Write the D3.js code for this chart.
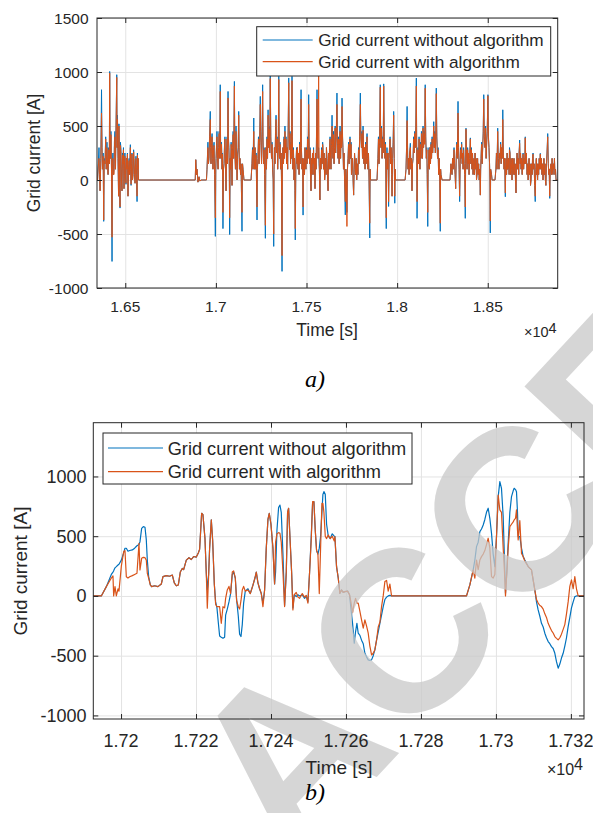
<!DOCTYPE html>
<html>
<head>
<meta charset="utf-8">
<script src="https://cdn.jsdelivr.net/npm/d3@7"></script>
<style>
  body { margin: 0; background: #fff; }
  svg { display: block; }
  text { font-family: "Liberation Sans", Arial, Helvetica, sans-serif; fill: #262626; }
</style>
</head>
<body>
<svg id="fig" width="593" height="813"></svg>
<script>
// ---------- panel a): full record (time in s, current in A) ----------
const topTime = [
  16347,16351,16355,16358,16361,16365,16369,16372,16374,16378,16381,16384,16388,16392,16395,16399,16402,16405,16409,16412,16414,16416,16418,16421,16424,16427,16429,16432,16435,16438,16440,16443,16446,16449,16453,16455,16457,16460,16463,16465,16468,16471,16473,16476,16479,16482,16485,16487,16490,16493,16496,16498,16501,16504,16506,16509,16512,16515,16518,16521,16524,16528,16530,16532,16535,16537,16540,16543,16546,16548,16551,16554,16557,16559,16562,16565,16567,16569,16571,16573,
  16886,16889,16893,16896,16901,16907,16912,16918,
  16948,16951,16954,16956,16959,16962,16965,16969,16971,16973,16976,16979,16982,16984,16987,16990,16993,16997,16999,17001,17004,17006,17009,17012,17015,17018,17021,17024,17026,17028,17031,17034,17036,17039,17042,17045,17047,17050,17053,17056,17059,17062,17064,17067,17069,17072,17074,17076,17079,17081,17084,17086,17089,17092,17095,17098,17102,17104,17105,17108,17111,17114,17117,17120,17123,17126,17128,17130,17133,17136,17139,17141,17144,17147,17150,17155,
  17194,17199,17202,17205,17209,17211,17213,17216,17219,17222,17224,17227,17229,17232,17235,17238,17241,17245,17247,17249,17252,17255,17258,17260,17263,17266,17269,17273,17276,17279,17282,17285,17288,17291,17294,17297,17300,17303,17307,17310,17313,17316,17319,17321,17323,17326,17329,17332,17335,17338,17341,17344,17347,17349,17351,17354,17357,17360,17362,17365,17367,17370,17373,17376,17378,17381,17384,17387,17390,17393,17396,17399,17402,17404,17406,17409,17412,17415,17417,17420,17422,17425,17428,17431,17434,17436,17438,17441,17445,17448,17450,17453,17456,17459,17462,17465,17467,17470,17472,17475,17478,17481,17483,17486,17489,17492,17494,17497,17500,17503,17506,17509,17512,17514,17517,17520,17522,17525,17528,17531,17533,17536,17539,17541,17544,17547,17550,17553,17555,17558,17561,17564,17567,17569,17571,17574,17577,17580,17583,17586,17589,17591,17594,17597,17600,17602,17605,17608,17610,17613,17616,17619,17622,17625,17627,17630,17633,17635,17638,17641,17644,17646,17649,17652,17655,17658,17661,17664,17668,17671,17674,17677,17680,17682,17685,17688,17691,17693,17696,17699,17701,17704,17707,17710,17714,17717,17720,17723,17726,17729,17732,17735,17737,17740,17743,17746,17748,17751,17754,17757,17760,17763,17765,17768,17771,17774,17777,17780,17784,17787,17790,17793,17797,17800,17803,17806,17809,17812,17815,17817,17820,17823,17826,17829,17831,17834,17836,17839,17842,17845,17849,17851,17853,
  17889,17894,17897,17900,17903,17907,17909,17911,17914,17917,17920,17923,17926,17929,17933,17936,17940,17942,17944,17947,17950,17953,17956,17958,17961,17964,17967,17970,17972,17975,17978,17981,17984,17987,17989,17991,
  18044,18049,18052,18055,18058,18060,18063,18066,18069,18073,18076,18079,18082,18085,18088,18091,18094,18097,18100,18103,18106,18108,18110,18113,18115,18118,18121,18123,18126,18129,18132,18134,18137,18140,18143,18146,18149,18152,18155,18158,18161,18164,18166,18169,18171,18173,18176,18178,18181,18184,18187,18190,18193,18196,18199,18202,18205,18208,18211,18213,18216,18219,18223,18226,18229,18232,18235,18238,18240,18242,18248,
  18292,18297,18300,18303,18306,18309,18314,18317,18320,18323,18326,18329,18332,18336,18339,18342,18345,18348,18350,18353,18356,18359,18361,18364,18367,18370,18373,18376,18378,18380,18383,18386,18389,18392,18394,18397,18400,18404,18407,18410,18413,18416,18419,18421,18424,18427,18430,18433,18436,18438,18441,18444,18447,18450,18453,18456,18459,18461,18463,18466,18469,18472,18475,18478,18481,18485,18488,18491,18494,18497,18501,18504,18507,18510,18512,18514,18516,18521,18524,
  18540,18545,18548,18551,18555,18558,18562,18565,18568,18571,18574,18577,18580,18583,18586,18590,18593,18597,18599,18601,18604,18607,18609,18612,18615,18618,18620,18623,18626,18629,18632,18634,18637,18640,18643,18645,18648,18651,18653,18656,18659,18662,18665,18668,18671,18673,18676,18679,18681,18684,18687,18690,18692,18695,18698,18701,18704,18707,18710,18713,18717,18720,18723,18725,18728,18731,18734,18736,18739,18742,18745,18747,18750,18753,18756,18759,18762,18765,18768,18770,18772,18775,18778,18781,18784,18787,18790,18793,18796,18799,18802,18805,18808,18810,18813,18816,18818,18821,18824,18827,18831,18834,18837,18839,18842,18845,18849,18852,18855,18857,18860,18863,18866,18868,18871,18874,18877,18886];
const topWithout = [
  0,150,300,50,-100,200,836,300,100,250,-383,200,150,400,100,350,150,50,300,150,1005,400,200,450,100,-754,150,250,50,100,350,450,100,500,975,300,600,200,-150,520,100,-260,350,300,0,-100,250,150,300,-80,180,250,50,-40,200,120,250,-150,100,200,50,327,100,-50,150,250,0,50,280,200,50,-30,150,220,50,-200,250,100,200,0,
  0,188,50,100,-20,30,-10,0,
  0,100,250,350,150,200,400,635,300,150,350,430,200,100,300,350,50,-522,100,200,350,450,200,100,300,450,200,882,300,200,350,100,250,-450,100,150,300,400,150,-100,250,400,150,820,400,300,100,-505,200,100,350,300,-50,300,450,200,913,400,250,100,500,200,0,250,300,635,300,100,200,50,150,-100,-475,150,100,0,
  0,150,300,100,574,250,100,300,100,250,0,-370,100,200,400,150,350,774,500,350,150,450,882,400,150,300,50,-540,300,100,400,200,650,300,500,250,975,400,200,350,100,0,-615,100,300,150,450,600,250,400,100,300,960,400,200,350,100,250,0,-846,100,300,150,400,200,500,250,400,150,300,100,500,945,500,300,450,150,350,200,960,400,100,300,0,200,-100,-555,100,300,150,300,100,250,50,350,150,400,836,300,100,200,-325,100,200,50,300,150,100,300,150,400,200,790,400,150,300,50,-100,200,50,250,150,300,50,200,-80,250,100,400,836,350,200,300,150,100,-185,200,100,300,150,350,300,100,250,0,50,200,50,300,200,50,-100,250,100,300,400,200,100,350,600,300,200,450,150,300,500,250,400,805,350,200,400,150,350,500,200,450,300,758,400,300,100,250,0,-323,100,0,-300,100,200,350,150,300,400,200,350,50,100,200,0,-140,100,250,150,50,200,0,150,50,300,150,400,805,400,300,450,200,500,250,150,300,100,350,150,250,430,200,100,250,0,-537,100,0,
  0,200,400,150,350,882,400,300,500,200,400,250,890,400,200,350,-450,100,300,100,250,-245,200,300,400,150,300,50,-150,200,350,635,200,-215,100,0,
  0,100,300,681,250,100,200,50,250,340,100,200,-100,150,200,400,250,450,300,500,944,300,-355,200,300,150,400,250,100,350,200,450,400,200,500,300,450,350,882,400,200,300,50,-430,100,150,300,100,300,150,350,200,400,250,350,540,300,450,250,400,851,400,200,300,50,200,0,-475,100,50,0,
  0,150,100,50,200,100,300,150,50,-80,200,350,200,728,300,100,-200,150,300,200,350,150,250,100,300,150,50,-355,150,480,250,100,300,150,250,50,200,390,150,300,100,250,50,150,200,50,250,100,200,0,50,200,50,150,0,100,-140,100,200,350,150,300,450,790,400,300,500,200,350,450,790,400,300,150,0,-490,100,50,0,
  0,100,250,100,480,200,100,250,200,350,150,300,200,650,250,100,200,-155,100,200,50,250,100,100,200,50,300,250,50,200,100,0,200,50,150,200,50,150,0,-120,150,250,100,200,50,250,370,150,250,100,200,50,150,250,100,200,150,400,150,250,50,150,0,100,200,50,150,-50,0,150,50,200,250,100,150,-50,-200,100,200,50,150,0,150,50,200,100,247,100,200,50,150,0,100,200,50,150,0,-50,150,250,430,150,50,100,-170,100,150,50,200,100,50,150,100,200,50,100,0,0];
const topWith = [
  0,120,200,50,-100,180,620,250,100,220,-370,180,150,380,100,300,150,50,280,150,990,380,200,420,100,-530,150,200,50,50,300,400,100,480,950,300,560,200,-150,500,100,-250,320,250,0,-100,230,150,280,-80,180,220,50,-30,200,100,240,-150,100,180,50,300,100,-40,150,240,0,50,260,200,50,-30,150,200,50,-150,230,100,200,0,
  0,188,50,100,-20,30,-10,0,
  0,100,230,300,150,200,380,560,300,150,330,400,200,100,280,320,50,-350,100,200,330,400,200,100,300,430,200,820,300,200,330,100,240,-300,100,150,280,380,150,-100,240,380,150,760,380,250,100,-350,200,100,330,280,-50,280,420,200,870,380,230,100,450,200,0,230,280,600,280,100,200,50,150,-100,-300,150,100,0,
  0,150,280,100,450,230,100,300,100,230,0,-250,100,200,380,150,330,700,450,320,150,420,820,380,150,280,50,-420,300,100,380,200,600,300,470,250,940,380,200,330,100,0,-500,100,300,150,420,560,250,380,100,300,930,380,200,330,100,250,0,-700,100,300,150,380,200,450,250,380,150,300,100,480,900,480,280,430,150,330,200,920,380,100,280,0,200,-100,-450,100,280,150,300,100,250,50,330,150,380,750,300,100,200,-250,100,200,50,300,150,100,280,150,380,200,700,380,150,280,50,-100,200,50,250,150,280,50,200,-80,250,100,380,750,330,200,975,300,100,-185,200,100,280,150,330,280,100,250,0,50,200,50,300,200,50,-100,250,100,280,380,200,100,330,500,300,200,420,150,280,480,250,380,700,330,200,380,150,330,450,200,420,300,680,380,300,100,250,0,-200,100,0,-430,100,200,330,150,300,380,200,330,50,100,200,0,-140,100,250,150,50,200,0,150,50,280,150,380,700,380,300,430,200,460,250,150,300,100,330,150,250,400,200,100,250,0,-400,100,0,
  0,200,380,150,330,860,380,300,480,200,380,250,870,380,200,330,-350,100,250,100,250,-200,200,300,380,150,300,50,-150,200,330,600,200,-150,100,0,
  0,100,280,550,250,100,200,50,250,300,100,200,-100,150,200,380,250,430,300,480,870,300,-200,200,280,150,380,250,100,330,200,430,400,200,480,300,430,330,850,380,200,280,50,-300,100,150,280,100,300,150,330,200,380,250,330,500,300,430,250,380,800,380,200,280,50,200,0,-400,100,50,0,
  0,150,100,50,200,100,280,150,50,-80,200,330,200,620,300,100,-150,150,280,200,330,150,250,100,280,150,50,-250,150,470,250,100,280,150,250,50,200,380,150,280,100,250,50,150,200,50,250,100,200,0,50,200,50,150,0,100,-140,100,200,330,150,280,430,750,380,300,480,200,330,430,780,380,300,150,0,-380,100,50,0,
  0,100,250,100,450,200,100,250,200,330,150,300,200,560,250,100,200,-120,100,200,50,250,100,100,200,50,280,250,50,200,100,0,200,50,150,200,50,150,0,-120,150,250,100,200,50,250,340,150,250,100,200,50,150,240,100,200,150,390,150,250,50,150,0,100,200,50,150,-50,0,150,50,200,240,100,150,-50,-150,100,200,50,150,0,150,50,200,100,240,100,200,50,150,0,100,200,50,150,0,-50,150,250,400,150,50,100,-150,100,150,50,200,100,50,150,100,200,50,100,0,0];
const topXTicks = [16500, 17000, 17500, 18000, 18500];
const topXLabels = ["1.65", "1.7", "1.75", "1.8", "1.85"];
const topYTicks = [-1000, -500, 0, 500, 1000, 1500];
const topYLabels = ["-1000", "-500", "0", "500", "1000", "1500"];

// ---------- panel b): detail ----------
const botTime = [17192.52,17194.74,17196.08,17197.41,17197.85,17198.03,17198.39,17198.74,17199.19,17199.45,17200.08,17200.70,17201.05,17201.41,17201.85,17202.30,17203.01,17203.63,17204.25,17204.79,17205.05,17205.50,17205.94,17206.39,17206.74,17207.01,17207.36,17207.81,17208.16,17208.96,17209.85,
  17210.74,17211.19,17212.08,17212.96,17213.68,17214.21,17214.74,17215.28,17215.81,17216.34,17216.70,17217.41,17218.12,17218.74,17219.36,17220.08,17220.61,17220.96,17221.50,17221.85,17222.39,17222.74,17223.01,17223.36,17223.63,17224.08,17224.43,17224.88,17225.23,17225.59,17225.94,17226.30,17226.74,17227.19,17227.63,17227.90,
  17228.34,17228.79,17229.23,17229.68,17230.03,17230.48,17230.83,17231.28,17231.63,17231.99,17232.34,17232.70,17233.14,17233.85,17234.48,17235.19,17235.72,17236.08,17236.52,17236.96,17237.41,17237.85,17238.30,17238.74,17239.19,17239.54,17239.99,17240.52,17240.96,17241.23,17241.59,17242.03,17242.39,17242.74,17243.19,17243.63,
  17244.08,17244.43,17244.70,17245.05,17245.50,17245.85,17246.21,17246.74,17247.19,17247.63,17248.34,17248.96,17249.41,17249.85,17250.30,17250.74,17251.10,17251.45,17251.81,17252.16,17252.52,17252.88,17253.23,17253.59,17253.85,17254.12,17254.48,17254.83,17255.28,17255.81,17256.34,17256.88,
  17257.05,17257.49,17257.94,17258.38,17258.83,17259.27,17259.72,17260.43,17260.96,17261.32,17261.76,17262.21,17262.56,17262.92,17263.27,17263.72,17264.16,17264.61,17265.05,17265.49,17265.94,17266.38,17266.83,17267.27,17267.72,17268.16,17268.61,17269.05,17269.49,17269.94,17270.38,17270.83,17271.27,17271.72,17272.16,
  17292.16,17293.05,17293.94,17294.38,17294.83,17295.27,17295.72,17296.16,17296.61,17297.05,17297.49,17297.94,17298.38,17298.83,17299.27,17299.72,17300.16,17300.61,17301.05,17301.49,17301.94,17302.29,17302.56,17302.92,17303.27,17303.72,17304.16,17304.61,17304.87,17305.23,17305.49,17305.76,17305.94,17306.38,17306.83,17307.27,17307.72,
  17308.61,17309.49,17310.38,17310.83,17311.27,17311.72,17312.16,17312.61,17313.05,17313.49,17313.94,17314.38,17314.83,17315.27,17315.72,17316.16,17316.61,17317.05,17317.49,17317.94,17318.38,17318.83,17319.27,17319.72,17320.16,17320.61,17321.05,17321.49,17321.94,17323.72];
const botWithout = [0,0,78,180,200,210,235,245,259,265,300,360,399,399,374,380,385,400,420,430,454,566,580,575,469,300,162,92,78,85,78,
  100,162,170,165,175,110,85,92,200,230,220,300,320,305,330,325,360,390,692,680,480,190,50,180,400,636,470,100,-50,-100,-220,-335,-345,-354,-345,-160,
  -110,-50,20,180,200,150,-30,-170,-320,-340,-240,-60,40,60,20,90,150,200,110,60,20,-60,50,400,640,692,600,400,100,200,550,740,761,700,350,-80,
  200,700,734,500,200,-100,10,-5,10,0,10,-20,0,-50,200,500,780,790,550,380,350,400,500,700,850,873,850,600,500,480,520,500,
  497,245,150,22,50,30,36,40,10,-103,-229,-396,-300,-230,-312,-330,-370,-400,-480,-510,-535,-540,-535,-500,-450,-370,-300,-230,-160,-90,-30,-10,0,5,0,
  0,92,218,300,413,450,538,560,594,640,700,734,650,524,350,246,500,831,957,900,664,300,22,200,441,700,831,880,901,890,873,700,500,496,400,329,300,
  246,218,50,-50,-117,-170,-229,-260,-312,-350,-382,-400,-424,-440,-480,-550,-605,-570,-520,-480,-420,-350,-257,-180,-100,-50,-6,0,0,0];
const botWith = [0,0,78,150,167,0,78,0,60,40,250,370,380,160,150,160,170,180,190,441,218,315,323,320,300,190,150,92,78,85,78,
  100,162,170,165,175,110,85,92,200,230,220,300,320,305,330,325,360,390,692,680,480,190,-103,160,400,636,470,100,-70,-90,-90,-90,-229,-90,-100,-20,
  50,80,20,200,210,150,-40,-90,-110,-40,50,80,40,50,20,90,150,200,110,60,20,-90,50,400,640,692,600,400,100,450,520,530,524,450,200,-89,
  200,700,734,500,200,-117,10,30,-10,-20,20,-10,5,-61,200,470,789,789,550,380,350,20,400,775,775,700,500,480,510,480,500,460,
  497,245,150,22,50,30,36,40,10,-50,-140,-60,-20,-60,-60,-130,-200,-270,-200,-250,-312,-420,-494,-480,-450,-370,-260,-220,-90,0,120,130,40,100,0,
  0,92,218,148,301,220,300,329,350,380,430,483,400,162,150,180,500,845,720,700,400,200,0,200,400,580,600,620,636,650,720,550,469,630,355,330,290,
  246,218,50,-30,-60,-80,-89,-110,-150,-180,-229,-260,-290,-310,-340,-355,-368,-350,-320,-280,-240,-150,-50,80,134,60,162,60,0,0];
const botXTicks = [17200, 17220, 17240, 17260, 17280, 17300, 17320];
const botXLabels = ["1.72", "1.722", "1.724", "1.726", "1.728", "1.73", "1.732"];
const botYTicks = [-1000, -500, 0, 500, 1000];
const botYLabels = ["-1000", "-500", "0", "500", "1000"];

const seriesNames = ["Grid current without algorithm", "Grid current with algorithm"];
const seriesColors = ["#0072BD", "#D95319"];

const svg = d3.select("#fig");
// layers: plot contents, watermark, then frames and text on top
const backLayer = svg.append("g");
const markLayer = svg.append("g");
const frontLayer = svg.append("g");

function drawPanel(o) {
  const g = backLayer.append("g");
  const f = frontLayer.append("g");
  const x = d3.scaleLinear().domain(o.xDomain).range([o.left, o.right]);
  const y = d3.scaleLinear().domain(o.yDomain).range([o.bottom, o.top]);
  const w = o.right - o.left, h = o.bottom - o.top;

  g.append("rect").attr("x", o.left).attr("y", o.top).attr("width", w).attr("height", h).attr("fill", "#fff");

  // grid
  g.append("g").attr("transform", `translate(0,${o.bottom})`)
    .call(d3.axisBottom(x).tickValues(o.xTicks).tickSize(-h).tickFormat(""))
    .call(s => { s.select(".domain").remove(); s.selectAll("line").attr("stroke", "#e3e3e3").attr("stroke-width", 1); });
  g.append("g").attr("transform", `translate(${o.left},0)`)
    .call(d3.axisLeft(y).tickValues(o.yTicks).tickSize(-w).tickFormat(""))
    .call(s => { s.select(".domain").remove(); s.selectAll("line").attr("stroke", "#e3e3e3").attr("stroke-width", 1); });

  // series: blue first, orange drawn over it
  const clipId = "clip" + o.id;
  g.append("clipPath").attr("id", clipId).append("rect")
    .attr("x", o.left).attr("y", o.top).attr("width", w).attr("height", h);
  [o.without, o.with].forEach((vals, k) => {
    const n = Math.min(o.time.length, vals.length);
    const line = d3.line().x(i => x(o.time[i])).y(i => y(vals[i]));
    g.append("path").datum(d3.range(n)).attr("d", line).attr("fill", "none")
      .attr("stroke", seriesColors[k]).attr("stroke-width", o.lw)
      .attr("stroke-linejoin", "round").attr("clip-path", `url(#${clipId})`);
  });

  // box
  f.append("rect").attr("x", o.left).attr("y", o.top).attr("width", w).attr("height", h)
    .attr("fill", "none").attr("stroke", "#262626").attr("stroke-width", 1);

  // inward ticks on all four sides
  const tickStyle = s => { s.select(".domain").remove(); s.selectAll("line").attr("stroke", "#262626"); s.selectAll("text").remove(); };
  f.append("g").attr("transform", `translate(0,${o.bottom})`).call(d3.axisBottom(x).tickValues(o.xTicks).tickSize(-5)).call(tickStyle);
  f.append("g").attr("transform", `translate(0,${o.top})`).call(d3.axisTop(x).tickValues(o.xTicks).tickSize(-5)).call(tickStyle);
  f.append("g").attr("transform", `translate(${o.left},0)`).call(d3.axisLeft(y).tickValues(o.yTicks).tickSize(-5)).call(tickStyle);
  f.append("g").attr("transform", `translate(${o.right},0)`).call(d3.axisRight(y).tickValues(o.yTicks).tickSize(-5)).call(tickStyle);

  // tick labels
  f.append("g").selectAll("text").data(o.xTicks).join("text")
    .attr("x", d => x(d)).attr("y", o.xLabelY).attr("text-anchor", "middle")
    .style("font-size", o.tickFs + "px").text((d, i) => o.xLabels[i]);
  f.append("g").selectAll("text").data(o.yTicks).join("text")
    .attr("x", o.yLabelX).attr("y", d => y(d)).attr("dy", "0.36em").attr("text-anchor", "end")
    .style("font-size", o.tickFs + "px").text((d, i) => o.yLabels[i]);

  // axis titles
  f.append("text").attr("x", o.xTitle[0]).attr("y", o.xTitle[1]).attr("text-anchor", "middle")
    .style("font-size", o.titleFs + "px").text("Time [s]");
  f.append("text").attr("transform", `translate(${o.yTitle[0]},${o.yTitle[1]}) rotate(-90)`)
    .attr("text-anchor", "middle").style("font-size", o.titleFs + "px").text("Grid current [A]");

  // exponent of the time axis
  const ex = f.append("text").attr("x", o.right - 1).attr("y", o.expY).attr("text-anchor", "end")
    .style("font-size", o.expFs + "px");
  ex.append("tspan").text("\u00d710");
  ex.append("tspan").attr("dy", -o.expRaise).text("4");

  // legend
  const L = o.legend;
  f.append("rect").attr("x", L.x).attr("y", L.y).attr("width", L.w).attr("height", L.h)
    .attr("fill", "#fff").attr("stroke", "#262626").attr("stroke-width", 1);
  seriesNames.forEach((name, k) => {
    const ly = L.y + L.rows[k];
    f.append("line").attr("x1", L.x + L.lx0).attr("x2", L.x + L.lx1).attr("y1", ly).attr("y2", ly)
      .attr("stroke", seriesColors[k]).attr("stroke-width", 1.2);
    f.append("text").attr("x", L.x + L.tx).attr("y", ly).attr("dy", "0.36em")
      .style("font-size", L.fs + "px").text(name);
  });

  // panel caption
  f.append("text").attr("x", o.caption[0]).attr("y", o.caption[1])
    .style("font-family", "'Liberation Serif', 'Times New Roman', serif").style("font-style", "italic")
    .style("font-size", "24px").style("fill", "#000").text(o.captionText);
}

drawPanel({
  id: "a", left: 97, right: 557.7, top: 18, bottom: 288,
  xDomain: [16344, 18886], yDomain: [-1000, 1500],
  xTicks: topXTicks, xLabels: topXLabels, yTicks: topYTicks, yLabels: topYLabels,
  time: topTime, without: topWithout, with: topWith, lw: 1,
  tickFs: 15.5, titleFs: 17.5, expFs: 14.5, expRaise: 4,
  xLabelY: 311.5, yLabelX: 88.5, xTitle: [327, 336], yTitle: [39.5, 153], expY: 337,
  legend: { x: 256.7, y: 26.7, w: 294, h: 49.3, rows: [13.3, 35], lx0: 6, lx1: 56, tx: 61.5, fs: 17.2 },
  caption: [305, 387], captionText: "a)"
});

drawPanel({
  id: "b", left: 93.3, right: 584, top: 422.7, bottom: 719,
  xDomain: [17192.6, 17323.5], yDomain: [-1030, 1450],
  xTicks: botXTicks, xLabels: botXLabels, yTicks: botYTicks, yLabels: botYLabels,
  time: botTime, without: botWithout, with: botWith, lw: 1.2,
  tickFs: 18, titleFs: 19, expFs: 16, expRaise: 5,
  xLabelY: 746.5, yLabelX: 86.5, xTitle: [339, 773.5], yTitle: [27, 571], expY: 775,
  legend: { x: 103, y: 433, w: 309, h: 51, rows: [15, 38.7], lx0: 5, lx1: 60, tx: 64.7, fs: 18.2 },
  caption: [305, 800], captionText: "b)"
});

// diagonal watermark across the lower panel
markLayer.append("text")
  .attr("transform", "translate(290,870) rotate(-47)")
  .style("font-size", "230px").style("font-weight", "bold")
  .style("fill", "#c8c8c8").style("fill-opacity", 0.75)
  .text("ACCEPTED MANUSCRIPT");
</script>
</body>
</html>
